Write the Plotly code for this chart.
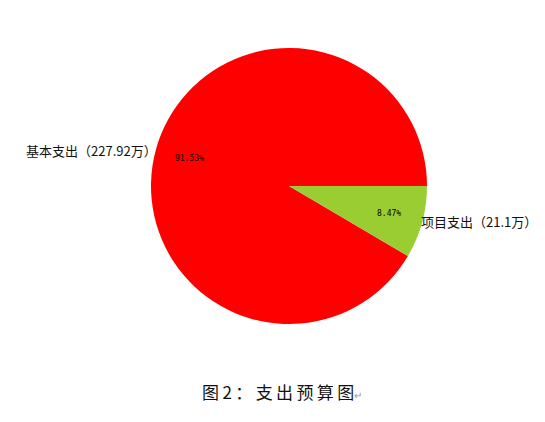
import numpy as np
import plotly.graph_objects as go

# data
labels = ["基本支出（227.92万）", "项目支出（21.1万）"]
values = [227.92, 21.1]
colors = ["#ff0000", "#9acd32"]
caption = "图2：支出预算图"

W, H = 545, 422
OFF = 8  # page body margin
cx, cy, r = 289 - OFF, 186 - OFF, 138  # pie centre / radius in pixels

vals = np.array(values)
share = vals / vals.sum()

fig = go.Figure()
fig.add_trace(go.Pie(
    labels=labels,
    values=values,
    marker=dict(colors=colors, line=dict(width=0)),
    sort=False,
    direction="counterclockwise",
    # first slice starts at 3 o'clock and runs counterclockwise (matplotlib style)
    rotation=90 + 360 * (1 - share[0]),
    textinfo="none",
    hoverinfo="label+percent",
    showlegend=False,
    domain=dict(x=[(cx - r) / W, (cx + r) / W],
                y=[(H - cy - r) / H, (H - cy + r) / H]),
))

# label / percentage positions like matplotlib's labeldistance / pctdistance
pct = share * 100
ends = np.cumsum(pct) / 100 * 360
starts = ends - pct / 100 * 360
mids = np.radians((starts + ends) / 2)

for lab, p, a in zip(labels, pct, mids):
    px_ = cx + 0.75 * r * np.cos(a)
    py_ = cy - 0.75 * r * np.sin(a)
    fig.add_annotation(
        x=px_ / W, y=1 - py_ / H, xref="paper", yref="paper",
        xanchor="center", yanchor="middle",
        text=f"{p:.2f}%", showarrow=False,
        font=dict(family="DejaVu Sans Mono", size=8, color="#000000"),
    )
    lx = cx + 0.98 * r * np.cos(a)
    ly = cy - 0.98 * r * np.sin(a)
    fig.add_annotation(
        x=lx / W, y=1 - ly / H, xref="paper", yref="paper",
        text=lab, showarrow=False,
        xanchor="right" if np.cos(a) < 0 else "left", yanchor="middle",
        font=dict(family="Noto Sans CJK SC", size=13, color="#111111"),
    )

fig.add_annotation(
    x=(282 - OFF) / W, y=1 - (391 - OFF) / H, xref="paper", yref="paper",
    xanchor="center", yanchor="middle",
    text="\u2009".join(caption) + "<span style='font-size:10px;color:#999999'>↵</span>",
    showarrow=False,
    font=dict(family="Noto Sans CJK SC", size=17, color="#111111"),
)

fig.update_layout(
    width=W, height=H,
    margin=dict(l=0, r=0, t=0, b=0),
    paper_bgcolor="white",
    plot_bgcolor="white",
)

fig.write_html("out.html")
